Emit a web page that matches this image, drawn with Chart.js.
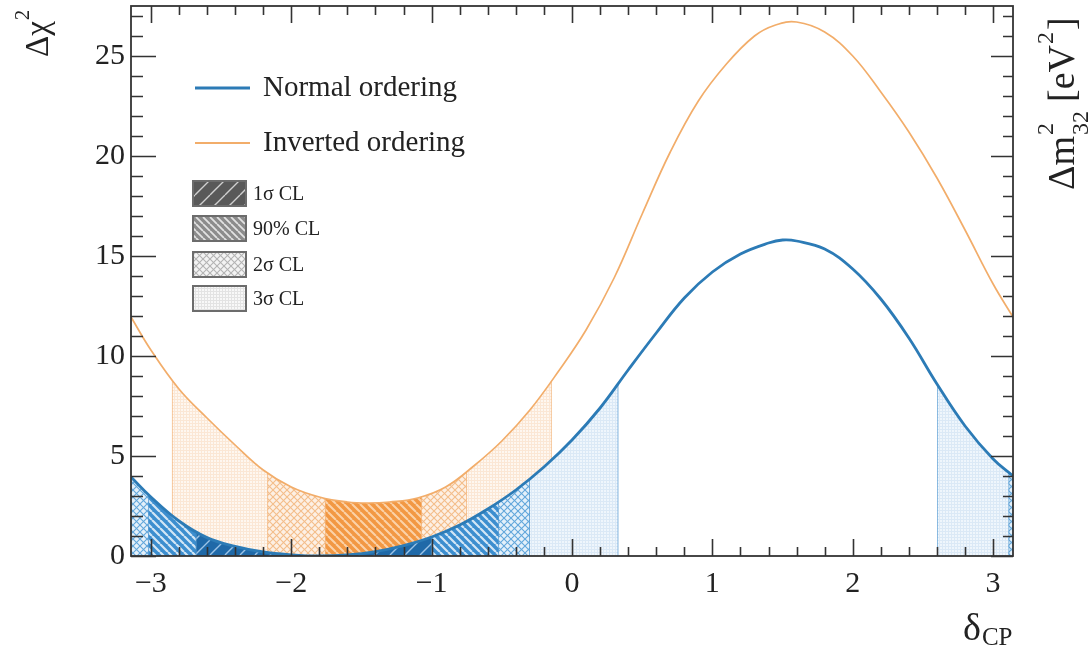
<!DOCTYPE html>
<html>
<head>
<meta charset="utf-8">
<title>Delta chi2 vs delta_CP</title>
<script src="https://cdn.jsdelivr.net/npm/chart.js@4.4.0/dist/chart.umd.min.js"></script>
<style>
  html, body { margin: 0; padding: 0; background: #fff; }
  #wrap { width: 1089px; height: 652px; }
</style>
</head>
<body>
<div id="wrap"><canvas id="chi2Chart" width="1089" height="652"></canvas></div>
<script>
// Profile of delta chi^2 versus delta_CP, normal and inverted mass ordering
const deltaNO = [-3.1416, -3.0, -2.8, -2.6, -2.4, -2.2, -2.0, -1.8, -1.6, -1.4, -1.2, -1.0, -0.8, -0.6, -0.4, -0.2, 0.0, 0.2, 0.4, 0.6, 0.8, 1.0, 1.2, 1.4, 1.5, 1.6, 1.8, 2.0, 2.2, 2.4, 2.6, 2.8, 3.0, 3.1416];
const chi2NO  = [3.95, 2.95, 1.75, 0.92, 0.48, 0.2, 0.06, 0.0, 0.05, 0.22, 0.52, 0.95, 1.55, 2.35, 3.3, 4.45, 5.8, 7.4, 9.3, 11.15, 12.9, 14.2, 15.1, 15.65, 15.8, 15.75, 15.35, 14.35, 12.85, 10.9, 8.6, 6.5, 4.85, 4.0];

const deltaIO = [-3.1416, -3.0, -2.8, -2.6, -2.4, -2.2, -2.0, -1.8, -1.6, -1.45, -1.3, -1.1, -0.9, -0.7, -0.5, -0.3, -0.1, 0.1, 0.3, 0.5, 0.7, 0.9, 1.1, 1.3, 1.45, 1.6, 1.8, 2.0, 2.2, 2.4, 2.6, 2.8, 3.0, 3.1416];
const chi2IO  = [11.95, 10.3, 8.35, 6.9, 5.55, 4.3, 3.45, 2.95, 2.7, 2.65, 2.7, 2.9, 3.45, 4.5, 5.75, 7.3, 9.2, 11.3, 13.9, 17.1, 20.2, 22.75, 24.6, 26.0, 26.55, 26.7, 26.2, 25.0, 23.2, 21.2, 18.9, 16.3, 13.6, 11.95];

// confidence intervals in delta_CP (pairs of [from, to])
const noSigma3 = [[-3.1416, 0.33], [2.60, 3.1416]];
const noSigma2 = [[-3.1416, -0.30], [3.11, 3.1416]];
const no90     = [[-3.02, -0.52]];
const noSigma1 = [[-2.68, -1.00]];
const ioSigma3 = [[-2.85, -0.145]];
const ioSigma2 = [[-2.17, -0.75]];
const io90     = [[-1.76, -1.07]];

const legendLines = ['Normal ordering', 'Inverted ordering'];
const legendBoxes = ['1\u03c3 CL', '90% CL', '2\u03c3 CL', '3\u03c3 CL'];

const NO_COLOR = '#2c7bb6';
const IO_COLOR = '#f2ad6a';
const SERIF = '"Liberation Serif", "DejaVu Serif", serif';
const TEXT = '#222';

// --- fill patterns ---
function tile(size, bg, draw) {
    const c = document.createElement('canvas');
    c.width = c.height = size;
    const g = c.getContext('2d');
    if (bg) { g.fillStyle = bg; g.fillRect(0, 0, size, size); }
    draw(g, size);
    return c;
}
function slash(color, w) {
    return (g, s) => {
        g.strokeStyle = color; g.lineWidth = w; g.beginPath();
        for (let k = -1; k <= 1; k++) { g.moveTo(k * s, s); g.lineTo(k * s + s, 0); }
        g.stroke();
    };
}
function backslash(color, w) {
    return (g, s) => {
        g.strokeStyle = color; g.lineWidth = w; g.beginPath();
        for (let k = -1; k <= 1; k++) { g.moveTo(k * s, 0); g.lineTo(k * s + s, s); }
        g.stroke();
    };
}
function cross(color, w) {
    return (g, s) => { slash(color, w)(g, s); backslash(color, w)(g, s); };
}
function grid(color) {
    return (g, s) => { g.fillStyle = color; g.fillRect(0, 0, s, 1); g.fillRect(0, 0, 1, s); };
}

const mainCtx = document.getElementById('chi2Chart').getContext('2d');
const pat = (size, bg, draw) => mainCtx.createPattern(tile(size, bg, draw), 'repeat');

const fills = {
    no1:  pat(15, '#1f69a8', slash('#9cc3e6', 1.4)),
    no90: pat(8,  '#3c8ecf', backslash('#d3e6f5', 2.2)),
    no2:  pat(7,  '#e4f0fa', cross('#62a6db', 1.1)),
    no3:  pat(3,  '#eff6fc', grid('#dbe9f6')),
    io90: pat(8,  '#f29843', backslash('#fbd2a8', 2.0)),
    io2:  pat(7,  '#fdf0e4', cross('#f4bd8a', 1.1)),
    io3:  pat(3,  '#fef7f0', grid('#fbe7d5')),
    lg1:  pat(15, '#595959', slash('#d0d0d0', 1.4)),
    lg90: pat(7,  '#8c8c8c', backslash('#e2e2e2', 1.8)),
    lg2:  pat(7,  '#f3f3f3', cross('#b3b3b3', 1.1)),
    lg3:  pat(3,  '#f8f8f8', grid('#e3e3e3'))
};

// fill under a curve between x-limits, with edge lines clipped to the filled area
function drawBands(ctx, area, xs, ys, line, bands, edgeColor) {
    const pts = line.points;
    const y0 = ys.getPixelForValue(0);
    bands.forEach(([ranges, fillStyle]) => {
        ranges.forEach(([a, b]) => {
            const xa = xs.getPixelForValue(a);
            const xb = xs.getPixelForValue(b);
            ctx.save();
            ctx.beginPath();
            ctx.rect(xa, area.top, xb - xa, area.bottom - area.top);
            ctx.clip();
            ctx.beginPath();
            line.path(ctx);
            ctx.lineTo(pts[pts.length - 1].x, y0);
            ctx.lineTo(pts[0].x, y0);
            ctx.closePath();
            ctx.fillStyle = fillStyle;
            ctx.fill();
            ctx.clip();
            ctx.strokeStyle = edgeColor;
            ctx.lineWidth = 1.4;
            ctx.beginPath();
            [xa, xb].forEach(px => {
                if (px > area.left + 1 && px < area.right - 1) {
                    ctx.moveTo(px, area.top);
                    ctx.lineTo(px, area.bottom);
                }
            });
            ctx.stroke();
            ctx.restore();
        });
    });
}

const clBands = {
    id: 'clBands',
    beforeDatasetsDraw(chart) {
        const {ctx, chartArea, scales} = chart;
        const lineNO = chart.getDatasetMeta(0).dataset;
        const lineIO = chart.getDatasetMeta(1).dataset;
        drawBands(ctx, chartArea, scales.x, scales.y, lineIO,
            [[ioSigma3, fills.io3], [ioSigma2, fills.io2], [io90, fills.io90]], '#f3b57c');
        drawBands(ctx, chartArea, scales.x, scales.y, lineNO,
            [[noSigma3, fills.no3], [noSigma2, fills.no2], [no90, fills.no90], [noSigma1, fills.no1]], '#5c9fd4');
    }
};

// frame, ticks on all four sides, legend and axis titles
const frame = {
    id: 'frame',
    afterDraw(chart) {
        const {ctx, chartArea: a, scales: {x, y}} = chart;
        ctx.save();
        ctx.strokeStyle = '#333';
        ctx.lineWidth = 1.6;
        ctx.beginPath();
        for (let v = 0; v <= 27; v++) {
            const py = Math.round(y.getPixelForValue(v)) + 0.5;
            const major = v % 5 === 0;
            ctx.moveTo(a.left, py); ctx.lineTo(a.left + (major ? 25 : 12), py);
            ctx.moveTo(a.right, py); ctx.lineTo(a.right - (major ? 22 : 10), py);
        }
        for (let k = -15; k <= 15; k++) {
            const v = k * 0.2;
            const px = Math.round(x.getPixelForValue(v)) + 0.5;
            const len = k % 5 === 0 ? 17 : 9;
            ctx.moveTo(px, a.bottom); ctx.lineTo(px, a.bottom - len);
            ctx.moveTo(px, a.top); ctx.lineTo(px, a.top + len);
        }
        ctx.stroke();
        ctx.lineWidth = 1.8;
        ctx.strokeRect(a.left, a.top, a.right - a.left, a.bottom - a.top);

        // legend: curves
        ctx.lineCap = 'butt';
        ctx.strokeStyle = NO_COLOR; ctx.lineWidth = 3;
        ctx.beginPath(); ctx.moveTo(195, 88); ctx.lineTo(250, 88); ctx.stroke();
        ctx.strokeStyle = IO_COLOR; ctx.lineWidth = 1.8;
        ctx.beginPath(); ctx.moveTo(195, 143); ctx.lineTo(250, 143); ctx.stroke();
        ctx.fillStyle = TEXT;
        ctx.textBaseline = 'middle';
        ctx.font = '29px ' + SERIF;
        ctx.fillText(legendLines[0], 263, 88);
        ctx.fillText(legendLines[1], 263, 143);

        // legend: interval boxes
        const boxFills = [fills.lg1, fills.lg90, fills.lg2, fills.lg3];
        const tops = [181, 216, 252, 286];
        ctx.font = '20px ' + SERIF;
        legendBoxes.forEach((txt, i) => {
            ctx.fillStyle = boxFills[i];
            ctx.fillRect(193, tops[i], 53, 25);
            ctx.strokeStyle = '#6c6c6c'; ctx.lineWidth = 2;
            ctx.strokeRect(193, tops[i], 53, 25);
            ctx.fillStyle = TEXT;
            ctx.fillText(txt, 253, tops[i] + 14);
        });

        // y title
        ctx.textBaseline = 'alphabetic';
        ctx.save();
        ctx.translate(48, 57);
        ctx.rotate(-Math.PI / 2);
        ctx.font = '33px ' + SERIF;
        ctx.fillText('\u0394\u03c7', 0, 0);
        const w = ctx.measureText('\u0394\u03c7').width;
        ctx.font = '21px ' + SERIF;
        ctx.fillText('2', w + 1, -19);
        ctx.restore();

        // x title
        ctx.font = '38px ' + SERIF;
        ctx.fillText('\u03b4', 963, 640);
        const wd = ctx.measureText('\u03b4').width;
        ctx.font = '25px ' + SERIF;
        ctx.fillText('CP', 963 + wd + 1, 645);

        // neighbouring panel's axis title, cut at the edge
        ctx.save();
        ctx.translate(1074, 190);
        ctx.rotate(-Math.PI / 2);
        ctx.font = '38px ' + SERIF;
        ctx.fillText('\u0394m', 0, 0);
        const wm = ctx.measureText('\u0394m').width;
        ctx.font = '24px ' + SERIF;
        ctx.fillText('2', wm + 1, -21);
        ctx.fillText('32', wm + 1, 14);
        ctx.font = '38px ' + SERIF;
        ctx.fillText('[eV', wm + 34, 0);
        const we = ctx.measureText('[eV').width;
        ctx.font = '24px ' + SERIF;
        ctx.fillText('2', wm + 35 + we, -21);
        ctx.font = '38px ' + SERIF;
        ctx.fillText(']', wm + 49 + we, 0);
        ctx.restore();
        ctx.restore();
    }
};

const tickFont = {family: SERIF, size: 30};
const minus = v => (v < 0 ? '\u2212' + Math.abs(v) : String(v));

new Chart(mainCtx, {
    type: 'line',
    data: {
        datasets: [
            {
                label: legendLines[0],
                data: deltaNO.map((d, i) => ({x: d, y: chi2NO[i]})),
                borderColor: NO_COLOR,
                borderWidth: 2.8,
                pointRadius: 0,
                tension: 0.4,
                fill: false
            },
            {
                label: legendLines[1],
                data: deltaIO.map((d, i) => ({x: d, y: chi2IO[i]})),
                borderColor: IO_COLOR,
                borderWidth: 1.7,
                pointRadius: 0,
                tension: 0.4,
                fill: false
            }
        ]
    },
    options: {
        responsive: false,
        animation: false,
        devicePixelRatio: 1,
        layout: {padding: {top: 6, right: 76, bottom: 0, left: 0}},
        plugins: {legend: {display: false}, tooltip: {enabled: false}},
        scales: {
            x: {
                type: 'linear',
                min: -Math.PI,
                max: Math.PI,
                grid: {display: false, drawTicks: false},
                border: {display: false},
                ticks: {stepSize: 1, includeBounds: false, padding: 10, maxRotation: 0,
                        font: tickFont, color: TEXT, callback: minus},
                afterFit: s => { s.height = 96; s.paddingLeft = 0; s.paddingRight = 0; }
            },
            y: {
                type: 'linear',
                min: 0,
                max: 27.5,
                grid: {display: false, drawTicks: false},
                border: {display: false},
                ticks: {stepSize: 5, includeBounds: false, padding: 6,
                        font: tickFont, color: TEXT},
                afterFit: s => { s.width = 131; s.paddingTop = 0; s.paddingBottom = 0; }
            }
        }
    },
    plugins: [clBands, frame]
});
</script>
</body>
</html>
